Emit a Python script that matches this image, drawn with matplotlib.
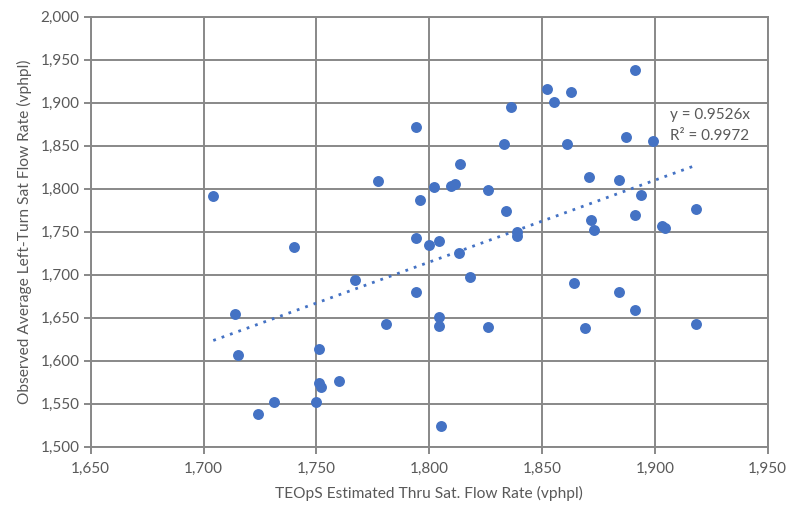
import matplotlib
matplotlib.use("Agg")
import matplotlib.pyplot as plt
import numpy as np
from matplotlib.ticker import FuncFormatter, MultipleLocator

teops_x = [1704.3, 1714.1, 1715.3, 1724.3, 1731.3, 1740.1, 1749.9, 1751.2, 1751.2, 1752.0,
           1760.2, 1767.3, 1777.2, 1781.0, 1794.0, 1794.0, 1794.0, 1796.0, 1800.1, 1802.3,
           1804.3, 1804.3, 1804.3, 1805.0, 1809.7, 1811.5, 1813.3, 1813.8, 1818.0, 1826.2,
           1826.2, 1833.3, 1834.0, 1836.2, 1838.8, 1838.8, 1852.0, 1855.2, 1861.0, 1863.0,
           1864.2, 1869.1, 1871.0, 1871.9, 1873.2, 1884.0, 1884.2, 1887.1, 1891.3, 1891.3,
           1891.1, 1894.0, 1899.0, 1903.2, 1904.3, 1918.2, 1918.2]
observed_y = [1791.5, 1654.7, 1606.6, 1537.7, 1552.0, 1732.0, 1552.0, 1614.0, 1573.7, 1569.0,
              1576.4, 1694.0, 1808.6, 1642.7, 1872.0, 1742.3, 1680.0, 1787.2, 1735.0, 1802.0,
              1739.5, 1651.0, 1640.3, 1524.0, 1803.5, 1805.0, 1725.0, 1829.0, 1697.7, 1798.0,
              1639.0, 1851.6, 1774.4, 1894.6, 1750.0, 1745.3, 1916.0, 1900.5, 1852.0, 1912.8,
              1690.0, 1637.7, 1813.2, 1764.0, 1751.6, 1810.0, 1680.2, 1860.5, 1938.4, 1770.0,
              1659.0, 1792.7, 1855.5, 1756.3, 1754.0, 1776.7, 1643.0]
slope = 0.9526
r2 = 0.9972

plt.rcParams['font.family'] = ['Lato', 'DejaVu Sans']
text_color = '#595959'
blue = '#4472C4'
grid_color = '#888888'

fig = plt.figure(figsize=(7.87, 5.08), dpi=100)
ax = fig.add_axes([0.1153, 0.1207, 0.9755 - 0.1153, 0.967 - 0.1207])

ax.scatter(teops_x, observed_y, s=62, color=blue, zorder=3, linewidths=0)

xs = np.array([min(teops_x), max(teops_x)])
ax.plot(xs, slope * xs, linestyle=(0, (1, 2.2)), color=blue, linewidth=2.0, zorder=2)

ax.set_xlim(1650, 1950)
ax.set_ylim(1500, 2000)
ax.xaxis.set_major_locator(MultipleLocator(50))
ax.yaxis.set_major_locator(MultipleLocator(50))
fmt = FuncFormatter(lambda v, p: f"{int(round(v)):,}")
ax.xaxis.set_major_formatter(fmt)
ax.yaxis.set_major_formatter(fmt)

ax.grid(True, color=grid_color, linewidth=1.4, zorder=0)
ax.set_axisbelow(True)
for side in ['top', 'right', 'left', 'bottom']:
    ax.spines[side].set_color(grid_color)
    ax.spines[side].set_linewidth(1.4)
ax.tick_params(axis='both', colors=grid_color, labelcolor=text_color, labelsize=11,
               length=5, width=1.4, direction='out')
ax.tick_params(axis='x', pad=6)
ax.tick_params(axis='y', pad=3)

ax.set_xlabel('TEOpS Estimated Thru Sat. Flow Rate (vphpl)', color=text_color, fontsize=11.2, labelpad=7)
ax.set_ylabel('Observed Average Left-Turn Sat Flow Rate (vphpl)', color=text_color, fontsize=11.2, labelpad=6)

ax.text(1906.5, 1885.5, f"y = {slope}x", color=text_color, fontsize=11, va='center', ha='left')
ax.text(1906.5, 1861, f"R² = {r2}", color=text_color, fontsize=11, va='center', ha='left')

fig.savefig('out.png', dpi=100, facecolor='white')
